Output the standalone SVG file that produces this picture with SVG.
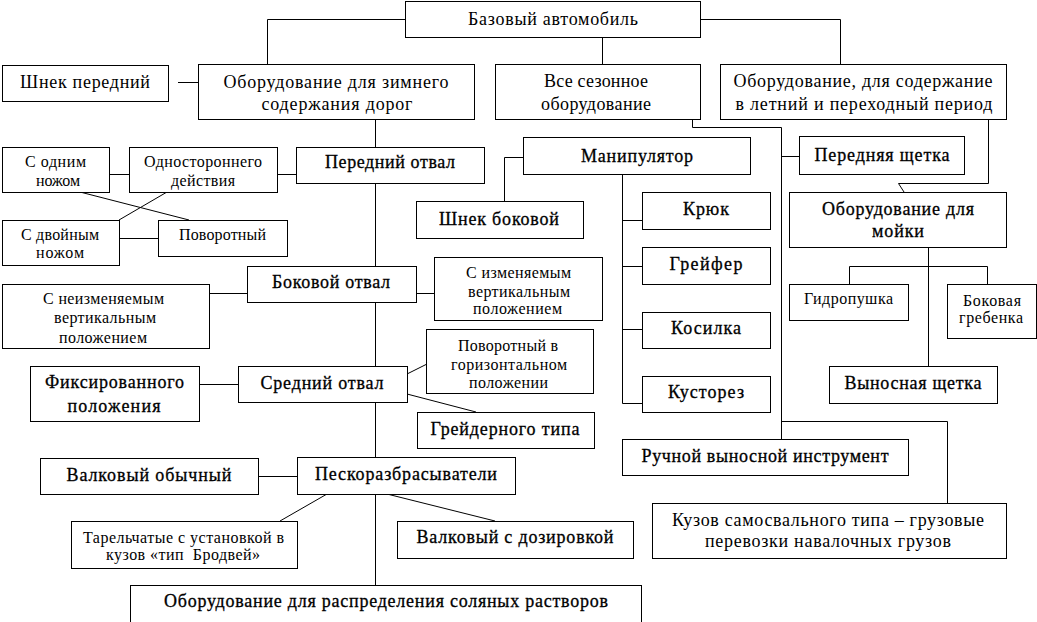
<svg xmlns="http://www.w3.org/2000/svg" width="1037" height="622" viewBox="0 0 1037 622">
<style>
rect{fill:#fff;stroke:#000;stroke-width:1}
#connectors path{fill:none;stroke:#000;stroke-width:1}
text{font-family:"Liberation Serif","Times New Roman",serif;fill:#000;text-anchor:middle}
.b{font-size:18px}
.s{font-size:16px}
.h{stroke:#000;stroke-width:0.3}
</style>
<rect x="0" y="0" width="1037" height="622" style="stroke:none"/>
<g id="connectors">
<path d="M405.5,19.5H267.5V64"/>
<path d="M701,19.5H840.5V64"/>
<path d="M602.5,37V64"/>
<path d="M178,82.5H198"/>
<path d="M375.5,119V585"/>
<path d="M692.5,119V127.5H781.5V439"/>
<path d="M988.5,119V183.5H898.5L904,192"/>
<path d="M109,174.5H129"/>
<path d="M277,174.5H296"/>
<path d="M80,192L189,220"/>
<path d="M167,192L119,220"/>
<path d="M119,238.5H158"/>
<path d="M523,157.5H504.5V201"/>
<path d="M622.5,174V403.5H642"/>
<path d="M622.5,220.5H642M622.5,266.5H642M622.5,329.5H642"/>
<path d="M781.5,156.5H799"/>
<path d="M928.5,247V366"/>
<path d="M849.5,284V266.5H987.5V284"/>
<path d="M209,293.5H247"/>
<path d="M416,293.5H434"/>
<path d="M199,384.5H238"/>
<path d="M407,374L427,364"/>
<path d="M407,394L476,412"/>
<path d="M258,476.5H297"/>
<path d="M327,494L280,521"/>
<path d="M387,494L495,521"/>
<path d="M781.5,421.5H947.5V503"/>
</g>
<g id="n-base"><rect x="405.5" y="1.5" width="295" height="36"/><text class="b" x="553" y="25" textLength="170" lengthAdjust="spacing">Базовый автомобиль</text></g>
<g id="n-shnek-front"><rect x="2.5" y="65.5" width="166" height="36"/><text class="b" x="85" y="88" textLength="130" lengthAdjust="spacing">Шнек передний</text></g>
<g id="n-winter"><rect x="198.5" y="64.5" width="276" height="55"/><text class="b" x="336" y="88" textLength="225" lengthAdjust="spacing">Оборудование для зимнего</text><text class="b" x="337" y="110" textLength="151" lengthAdjust="spacing">содержания дорог</text></g>
<g id="n-allseason"><rect x="495.5" y="64.5" width="205" height="55"/><text class="b" x="596" y="87" textLength="104" lengthAdjust="spacing">Все сезонное</text><text class="b" x="596" y="110" textLength="110" lengthAdjust="spacing">оборудование</text></g>
<g id="n-summer"><rect x="720.5" y="64.5" width="286" height="55"/><text class="b" x="863" y="87" textLength="259" lengthAdjust="spacing">Оборудование, для содержание</text><text class="b" x="864" y="110" textLength="257" lengthAdjust="spacing">в летний и переходный период</text></g>
<g id="n-front-blade"><rect x="296.5" y="147.5" width="188" height="36"/><text class="b h" x="390" y="168" textLength="130" lengthAdjust="spacing">Передний отвал</text></g>
<g id="n-manip"><rect x="523.5" y="137.5" width="227" height="37"/><text class="b h" x="637" y="162" textLength="112" lengthAdjust="spacing">Манипулятор</text></g>
<g id="n-front-brush"><rect x="799.5" y="136.5" width="165" height="38"/><text class="b h" x="882" y="161" textLength="135" lengthAdjust="spacing">Передняя щетка</text></g>
<g id="n-shnek-side"><rect x="416.5" y="201.5" width="167" height="37"/><text class="b h" x="499" y="225" textLength="120" lengthAdjust="spacing">Шнек боковой</text></g>
<g id="n-wash"><rect x="789.5" y="192.5" width="217" height="55"/><text class="b h" x="898" y="215" textLength="152" lengthAdjust="spacing">Оборудование для</text><text class="b h" x="898" y="237" textLength="52" lengthAdjust="spacing">мойки</text></g>
<g id="n-hook"><rect x="642.5" y="192.5" width="128" height="37"/><text class="b h" x="706" y="215" textLength="46" lengthAdjust="spacing">Крюк</text></g>
<g id="n-grab"><rect x="642.5" y="247.5" width="128" height="37"/><text class="b h" x="706" y="270" textLength="73" lengthAdjust="spacing">Грейфер</text></g>
<g id="n-side-blade"><rect x="247.5" y="266.5" width="169" height="36"/><text class="b h" x="331" y="288" textLength="118" lengthAdjust="spacing">Боковой отвал</text></g>
<g id="n-mower"><rect x="642.5" y="312.5" width="128" height="36"/><text class="b h" x="706" y="334" textLength="70" lengthAdjust="spacing">Косилка</text></g>
<g id="n-cutter"><rect x="642.5" y="376.5" width="128" height="36"/><text class="b h" x="706" y="398" textLength="76" lengthAdjust="spacing">Кусторез</text></g>
<g id="n-fixed"><rect x="30.5" y="366.5" width="169" height="55"/><text class="b h" x="114.5" y="388" textLength="139" lengthAdjust="spacing">Фиксированного</text><text class="b h" x="114" y="412" textLength="93" lengthAdjust="spacing">положения</text></g>
<g id="n-mid-blade"><rect x="238.5" y="366.5" width="169" height="36"/><text class="b h" x="322" y="389" textLength="123" lengthAdjust="spacing">Средний отвал</text></g>
<g id="n-grader"><rect x="417.5" y="412.5" width="177" height="36"/><text class="b h" x="505" y="435" textLength="149" lengthAdjust="spacing">Грейдерного типа</text></g>
<g id="n-remote-brush"><rect x="829.5" y="366.5" width="168" height="37"/><text class="b h" x="913" y="389" textLength="137" lengthAdjust="spacing">Выносная щетка</text></g>
<g id="n-manual"><rect x="622.5" y="439.5" width="286" height="36"/><text class="b h" x="765" y="462" textLength="247" lengthAdjust="spacing">Ручной выносной инструмент</text></g>
<g id="n-roller"><rect x="40.5" y="458.5" width="218" height="36"/><text class="b h" x="149" y="481" textLength="165" lengthAdjust="spacing">Валковый обычный</text></g>
<g id="n-spreaders"><rect x="297.5" y="457.5" width="218" height="37"/><text class="b h" x="406" y="480" textLength="182" lengthAdjust="spacing">Пескоразбрасыватели</text></g>
<g id="n-dump"><rect x="652.5" y="503.5" width="354" height="55"/><text class="b" x="828" y="526" textLength="312" lengthAdjust="spacing">Кузов самосвального типа – грузовые</text><text class="b" x="828" y="547" textLength="246" lengthAdjust="spacing">перевозки навалочных грузов</text></g>
<g id="n-roller-dose"><rect x="397.5" y="521.5" width="236" height="37"/><text class="b h" x="515" y="543" textLength="197" lengthAdjust="spacing">Валковый с дозировкой</text></g>
<g id="n-salt"><rect x="130.5" y="585.5" width="511" height="45"/><text class="b h" x="386" y="607" textLength="444" lengthAdjust="spacing">Оборудование для распределения соляных растворов</text></g>
<g id="n-one-knife"><rect x="2.5" y="147.5" width="107" height="45"/><text class="s" x="55.5" y="167" textLength="61" lengthAdjust="spacing">С одним</text><text class="s" x="58" y="186" textLength="44" lengthAdjust="spacing">ножом</text></g>
<g id="n-one-side"><rect x="129.5" y="147.5" width="148" height="45"/><text class="s" x="203" y="167" textLength="118" lengthAdjust="spacing">Одностороннего</text><text class="s" x="203" y="186" textLength="64" lengthAdjust="spacing">действия</text></g>
<g id="n-two-knife"><rect x="2.5" y="220.5" width="117" height="45"/><text class="s" x="60" y="240" textLength="78" lengthAdjust="spacing">С двойным</text><text class="s" x="60" y="258" textLength="48" lengthAdjust="spacing">ножом</text></g>
<g id="n-rotary"><rect x="158.5" y="220.5" width="129" height="36"/><text class="s" x="222.5" y="240" textLength="87" lengthAdjust="spacing">Поворотный</text></g>
<g id="n-nonvar"><rect x="2.5" y="284.5" width="207" height="64"/><text class="s" x="103.5" y="304" textLength="121" lengthAdjust="spacing">С неизменяемым</text><text class="s" x="105" y="323" textLength="102" lengthAdjust="spacing">вертикальным</text><text class="s" x="103" y="343" textLength="88" lengthAdjust="spacing">положением</text></g>
<g id="n-var"><rect x="434.5" y="257.5" width="168" height="63"/><text class="s" x="518.5" y="278" textLength="105" lengthAdjust="spacing">С изменяемым</text><text class="s" x="519" y="297" textLength="102" lengthAdjust="spacing">вертикальным</text><text class="s" x="517.5" y="314" textLength="89" lengthAdjust="spacing">положением</text></g>
<g id="n-rot-horiz"><rect x="426.5" y="329.5" width="167" height="64"/><text class="s" x="508" y="351" textLength="100" lengthAdjust="spacing">Поворотный в</text><text class="s" x="509" y="370" textLength="116" lengthAdjust="spacing">горизонтальном</text><text class="s" x="508.5" y="388" textLength="79" lengthAdjust="spacing">положении</text></g>
<g id="n-hydro"><rect x="789.5" y="284.5" width="119" height="36"/><text class="s" x="848.5" y="304" textLength="89" lengthAdjust="spacing">Гидропушка</text></g>
<g id="n-side-comb"><rect x="947.5" y="284.5" width="89" height="54"/><text class="s" x="992" y="306" textLength="58" lengthAdjust="spacing">Боковая</text><text class="s" x="991" y="323" textLength="64" lengthAdjust="spacing">гребенка</text></g>
<g id="n-plate"><rect x="71.5" y="521.5" width="226" height="47"/><text class="s" x="183.5" y="543" textLength="201" lengthAdjust="spacing">Тарельчатые с установкой в</text><text class="s" x="183" y="560" textLength="154" lengthAdjust="spacing" style="white-space:pre">кузов «тип  Бродвей»</text></g>
</svg>
